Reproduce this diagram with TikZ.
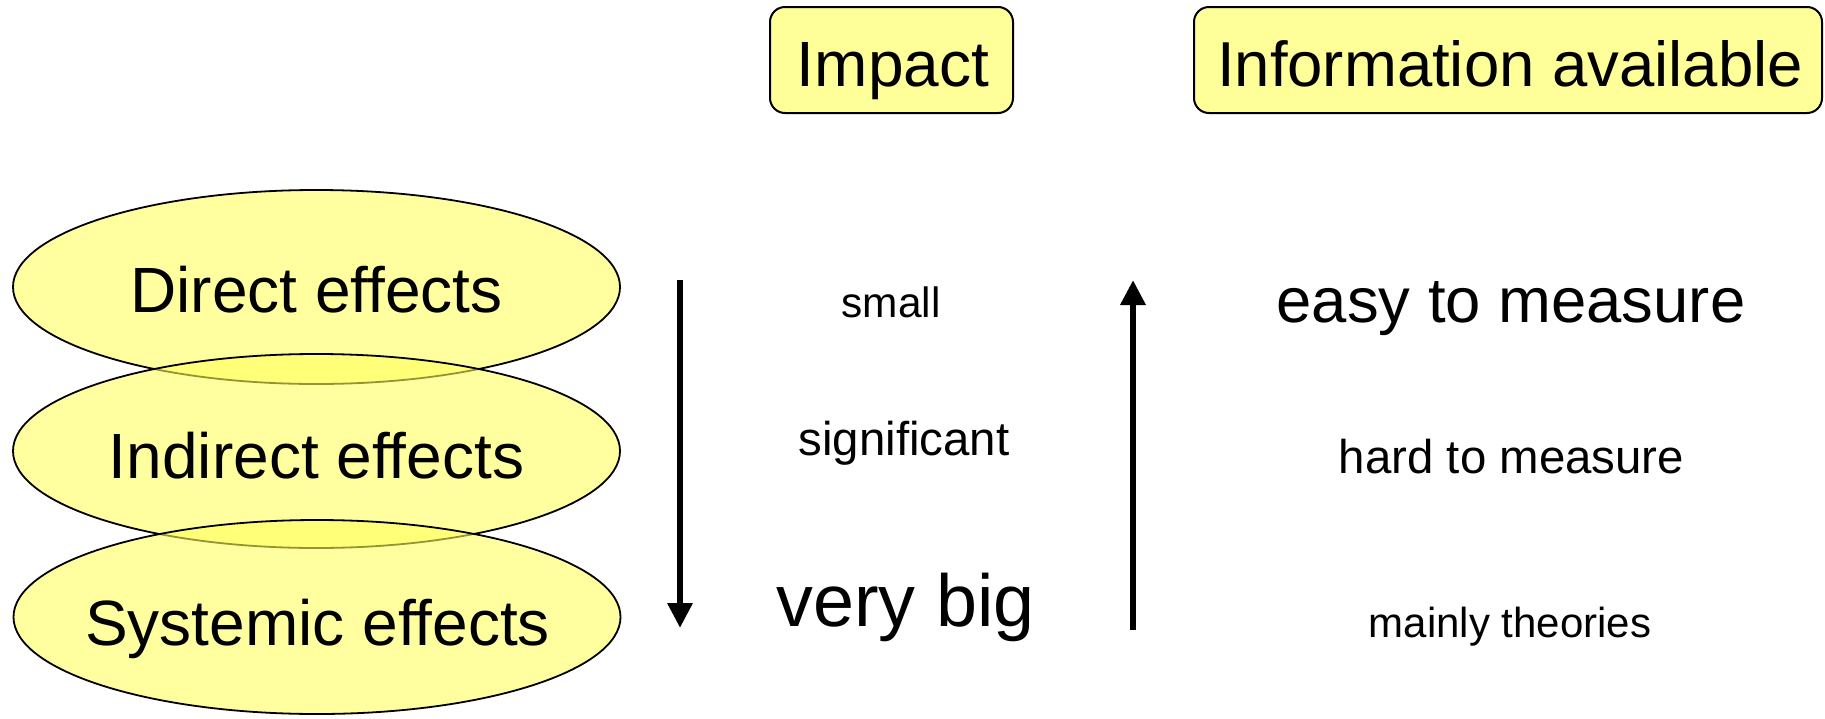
\documentclass[tikz,border=0pt]{standalone}
\usepackage{fontspec}
\setmainfont{Liberation Sans}
\usetikzlibrary{shapes.geometric,arrows.meta}
\definecolor{ellfill}{RGB}{255,255,91}
\definecolor{boxfill}{RGB}{255,255,153}
\tikzset{
  layer/.style={ellipse, draw=black, line width=1.8pt, fill=ellfill, fill opacity=0.58,
    draw opacity=1, minimum width=607pt, minimum height=194pt, inner sep=0pt},
  headbox/.style={rectangle, rounded corners=15pt, draw=black, line width=2pt, fill=boxfill,
    inner sep=0pt},
  txt/.style={anchor=base, inner sep=0pt, text=black},
  bigarrow/.style={line width=6.5pt, -{Triangle[width=24pt,length=25pt]}}
}
\newcommand{\fsz}[1]{\fontsize{#1}{#1}\selectfont}
\begin{document}
\begin{tikzpicture}[x=1pt,y=-1pt]
\useasboundingbox (0,0) rectangle (1825,718);
% header boxes
\node[headbox, minimum width=243pt, minimum height=106pt] (impactbox) at (891.5,60) {};
\node[txt, font=\fsz{64}] (impactlbl) at (893,86) {Impact};
\node[headbox, minimum width=628pt, minimum height=106pt] (infobox) at (1508,60) {};
\node[txt, font=\fsz{63.5}] (infolbl) at (1510,86) {Information available};
% layered ellipses
\node[layer] (direct) at (316.5,287) {};
\node[txt, font=\fsz{64}] (directlbl) at (316.5,312) {Direct effects};
\node[layer] (indirect) at (316.5,451) {};
\node[txt, font=\fsz{64}] (indirectlbl) at (316.5,478) {Indirect effects};
\node[layer] (systemic) at (317,617) {};
\node[txt, font=\fsz{64}] (systemiclbl) at (317.5,645) {Systemic effects};
% arrows
\coordinate (dtop) at (680,280);
\coordinate (dbot) at (680,628);
\draw[bigarrow] (dtop) -- (dbot);
\coordinate (ubot) at (1133,630);
\coordinate (utop) at (1133,280);
\draw[bigarrow] (ubot) -- (utop);
% impact column
\node[txt, font=\fsz{42.4}] (small) at (891,317) {small};
\node[txt, font=\fsz{47.4}] (signif) at (904,455) {significant};
\node[txt, font=\fsz{73.7}] (verybig) at (905.5,626) {very big};
% information column
\node[txt, font=\fsz{63.4}] (easy) at (1511,322) {easy to measure};
\node[txt, font=\fsz{47.4}] (hard) at (1511.5,473) {hard to measure};
\node[txt, font=\fsz{42}] (theories) at (1510,637) {mainly theories};
\end{tikzpicture}
\end{document}
